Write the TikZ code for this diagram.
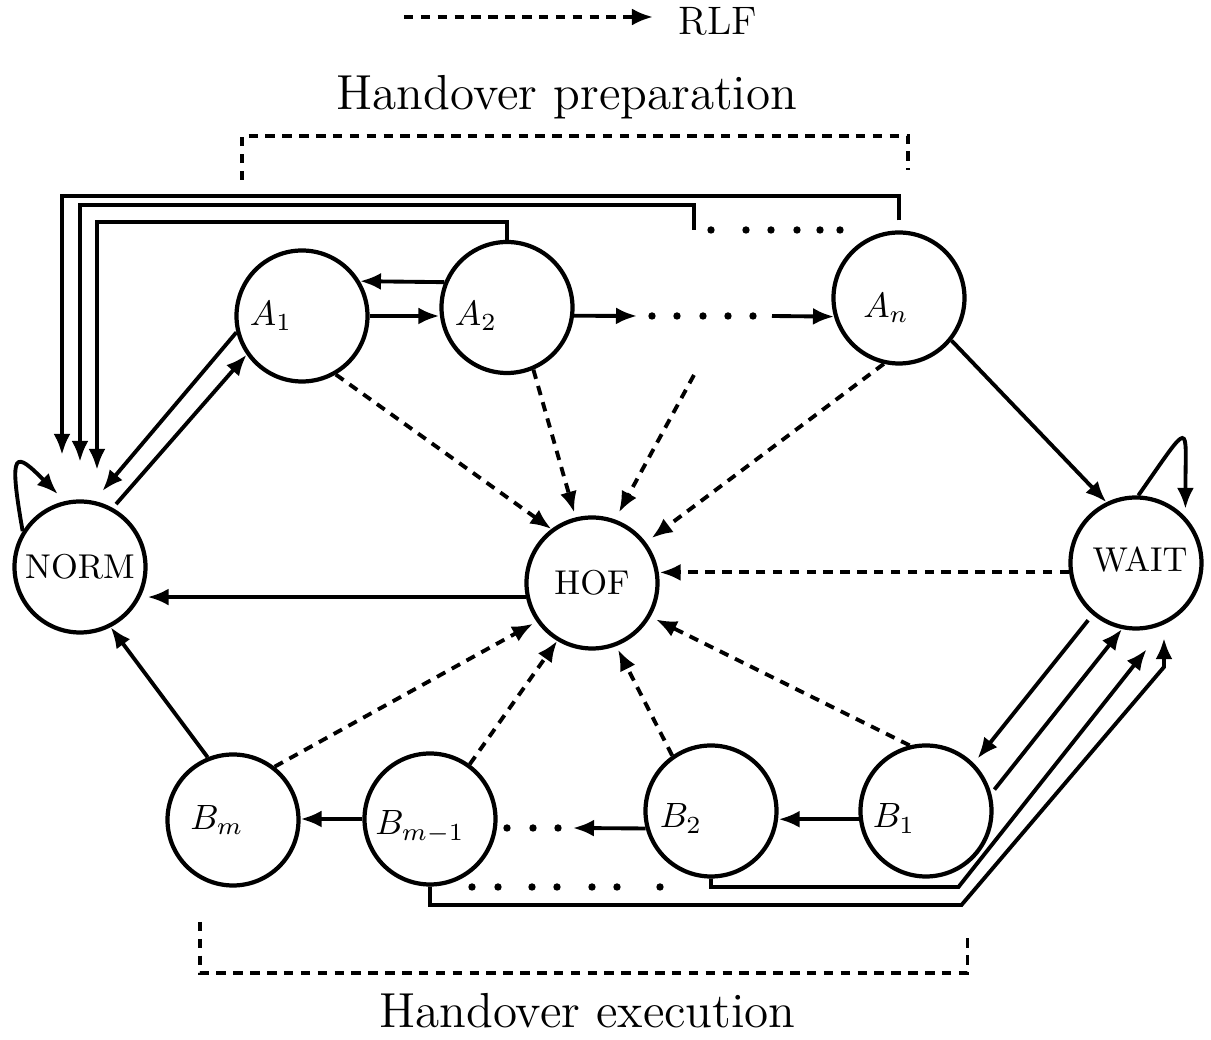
\documentclass[tikz,border=0pt]{standalone}
\usepackage{amsmath}
\usepackage{tikz}
\usetikzlibrary{arrows.meta,calc}

\begin{document}
\begin{tikzpicture}[font=\fontsize{9.8}{11}\selectfont,
  state/.style={circle, draw, line width=1.2pt, minimum size=1.31cm, inner sep=0pt},
  arr/.style={line width=1.1pt, -{Latex[length=2.1mm,width=1.7mm]}},
  rlf/.style={arr, dash pattern=on 2.7pt off 2.1pt},
  phase/.style={line width=1.1pt, dash pattern=on 2.7pt off 2.1pt},
  title/.style={anchor=base, font=\fontsize{14}{16}\selectfont}]
  \useasboundingbox (0,0) rectangle (12.11,-10.40);

  % states
  \node[state] (norm) at (0.80,-5.67) {NORM};
  \node[state] (hof) at (5.92,-5.83) {HOF};
  \node[state, label={[xshift=0.04cm, yshift=0.03cm]center:WAIT}] (wait) at (11.36,-5.63) {};
  \node[state, label={[xshift=-0.31cm]center:$A_1$}] (a1) at (3.02,-3.16) {};
  \node[state, label={[xshift=-0.31cm, yshift=-0.085cm]center:$A_2$}] (a2) at (5.07,-3.075) {};
  \node[state, label={[xshift=-0.13cm, yshift=-0.10cm]center:$A_n$}] (an) at (8.99,-2.98) {};
  \node[state, label={[xshift=-0.16cm]center:$B_m$}] (bm) at (2.33,-8.20) {};
  \node[state, label={[xshift=-0.10cm, yshift=-0.08cm]center:$B_{m-1}$}] (bm1) at (4.30,-8.19) {};
  \node[state, label={[xshift=-0.30cm, yshift=-0.075cm]center:$B_2$}] (b2) at (7.11,-8.11) {};
  \node[state, label={[xshift=-0.32cm, yshift=-0.075cm]center:$B_1$}] (b1) at (9.26,-8.11) {};

  % free ends and corners
  \coordinate (ar1) at (6.37,-3.16);
  \coordinate (al1) at (7.72,-3.16);
  \coordinate (ad) at (6.94,-2.30);
  \coordinate (adh) at (6.94,-3.75);
  \coordinate (r1) at (0.62,-1.96);
  \coordinate (r2) at (0.80,-2.05);
  \coordinate (r3) at (0.97,-2.22);
  \coordinate (bl1) at (5.73,-8.28);
  \coordinate (c2) at (9.585,-8.87);
  \coordinate (c3) at (9.615,-9.05);
  \coordinate (c4) at (11.64,-6.67);

  % legend
  \coordinate (leg) at (4.04,-0.17);
  \node[anchor=base west, inner sep=0pt, font=\fontsize{11.3}{13}\selectfont] (rlflab) at (6.78,-0.35) {RLF};
  \draw[rlf, shorten >=2.5mm] (leg) -- (leg -| rlflab.west);

  % phases
  \node[title] (prep) at (5.67,-1.10) {Handover preparation};
  \draw[phase] (2.42,-1.80) |- (9.08,-1.36) -- (9.08,-1.70);
  \node[title] (exec) at (5.875,-10.28) {Handover execution};
  \draw[phase] (2.00,-9.22) |- (9.675,-9.73) -- (9.675,-9.32);

  % preparation row
  \draw[arr] (a1.east) -- (a1.east -| a2.west);
  \draw[arr] (a2.158) -- (a1.31);
  \draw[arr] (a2.-7) -- (ar1);
  \foreach \x in {6.52,6.77,7.03,7.28,7.53}
    \fill (\x,-3.16) circle (0.037);
  \draw[arr] (al1) -- (an.196);
  \draw[arr] (an.-39) -- (wait.116);

  % back to NORM
  \draw[arr, shorten >=1.3mm] (a1.194) -- (norm.78);
  \draw[arr, shorten <=0.5mm] (norm.61) -- (a1.215);
  \draw[arr, shorten <=1mm, shorten >=4.45mm] (an.north) |- (r1) -- (r1 |- norm.north);
  \draw[arr, shorten >=3.75mm] (ad) |- (r2) -- (norm.north);
  \draw[arr, shorten >=2.95mm] (a2.north) |- (r3) -- (r3 |- norm.north);
  \foreach \x in {7.11,7.46,7.71,7.97,8.20,8.40}
    \fill (\x,-2.30) circle (0.037);
  \draw[arr, shorten >=1mm] (norm.148) .. controls +(100:0.85) and +(135:0.7) .. (norm.103);
  \draw[arr] (hof.192) -- (hof.192 -| norm.east);
  \draw[arr, shorten >=0.8mm] (wait.88) .. controls +(55:0.95) and +(90:0.95) .. (wait.43);

  % RLF transitions
  \draw[rlf] (a1.-60) -- (hof.127);
  \draw[rlf, shorten >=0.5mm] (a2.-67) -- (hof.104);
  \draw[rlf, shorten >=0.8mm] (adh) -- (hof.70);
  \draw[rlf, shorten >=0.7mm] (an.-103) -- (hof.37);
  \draw[rlf] (wait.188) -- (wait.188 -| hof.east);
  \draw[rlf, shorten >=0.4mm] (bm.52) -- (hof.-145);
  \draw[rlf] (bm1.54) -- (hof.-121);
  \draw[rlf, shorten >=0.4mm] (b2.125) -- (hof.-69);
  \draw[rlf, shorten >=0.6mm] (b1.104) -- (hof.-30);

  % execution row
  \draw[arr] (b1.187) -- (b1.187 -| b2.east);
  \draw[arr] (b2.195) -- (bl1);
  \foreach \x in {5.07,5.33,5.58}
    \fill (\x,-8.28) circle (0.037);
  \draw[arr] (bm1.west) -- (bm1.west -| bm.east);
  \draw[arr] (bm.112) -- (norm.-63);
  \draw[arr, shorten <=0.7mm, shorten >=0.6mm] (wait.-130) -- (b1.45);
  \draw[arr, shorten <=0.5mm] (b1.15) -- (wait.-102);
  \draw[arr, shorten >=3.4mm] (b2.south) |- (c2) -- (wait.-62);
  \draw[arr, shorten >=0.75mm] (bm1.south) |- (c3) -- (c4) -- (c4 |- wait.south);
  \foreach \x in {4.72,4.98,5.32,5.57,5.92,6.17,6.60}
    \fill (\x,-8.87) circle (0.037);
\end{tikzpicture}
\end{document}
